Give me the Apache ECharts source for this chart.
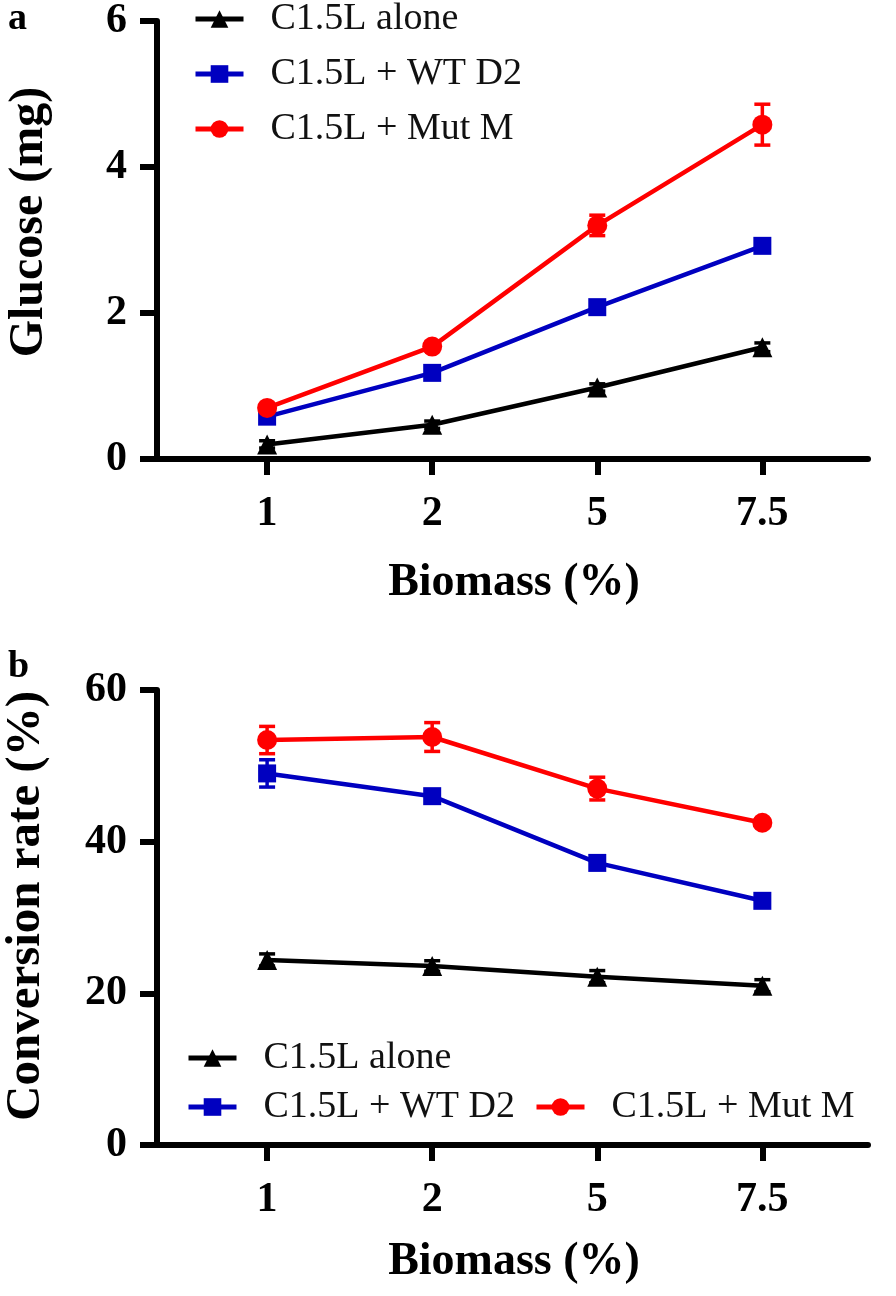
<!DOCTYPE html>
<html><head><meta charset="utf-8">
<script src="https://cdn.jsdelivr.net/npm/echarts@6/dist/echarts.min.js"></script>
<style>html,body{margin:0;padding:0;background:#fff}#c{width:896px;height:1296px}</style>
</head><body><div id="c"></div>
<script>
// ---- data ----
const categories = ['1', '2', '5', '7.5'];
const seriesNames = ['C1.5L alone', 'C1.5L + WT D2', 'C1.5L + Mut M'];
const seriesColors = ['#000000', '#0000c0', '#ff0000'];
const seriesSymbols = ['triangle', 'rect', 'circle'];

// panel a: glucose (mg)
const glucoseAlone    = [0.20, 0.47, 0.98, 1.53];
const glucoseAloneErr = [0.05, 0.05, 0.05, 0.06];
const glucoseWT       = [0.58, 1.18, 2.08, 2.92];
const glucoseWTErr    = [0.04, 0.06, 0.06, 0.06];
const glucoseMut      = [0.70, 1.54, 3.20, 4.58];
const glucoseMutErr   = [0.04, 0.06, 0.14, 0.28];

// panel b: conversion rate (%)
const convAlone    = [24.4, 23.6, 22.2, 21.0];
const convAloneErr = [0.8, 0.7, 0.8, 0.8];
const convWT       = [49.0, 46.0, 37.2, 32.2];
const convWTErr    = [1.8, 0.8, 0.8, 0.6];
const convMut      = [53.4, 53.8, 47.0, 42.5];
const convMutErr   = [1.8, 1.9, 1.5, 0.5];

const yMaxTop = 6, yStepTop = 2;
const yMaxBottom = 60, yStepBottom = 20;

// ---- chart ----
const FONT = '"Liberation Serif", "Times New Roman", serif';
const chart = echarts.init(document.getElementById('c'), null, {renderer: 'canvas'});

const catIdx = categories.map((c, i) => i);

function xAxis(gi) {
  return {
    type: 'value', gridIndex: gi, min: -0.667, max: 3.64,
    axisLine: {show: true, onZero: false, lineStyle: {color: '#000', width: 6}},
    axisTick: {show: true, customValues: catIdx, length: 16, lineStyle: {color: '#000', width: 6}},
    axisLabel: {show: true, customValues: catIdx, margin: 34,
      formatter: v => categories[Math.round(v)] || '',
      fontFamily: FONT, fontWeight: 'bold', fontSize: 42, color: '#000'},
    splitLine: {show: false}
  };
}
function yAxis(gi, max, step) {
  return {
    type: 'value', gridIndex: gi, min: 0, max: max, interval: step,
    axisLine: {show: true, onZero: false, lineStyle: {color: '#000', width: 6}},
    axisTick: {show: true, length: 17, lineStyle: {color: '#000', width: 6}},
    axisLabel: {margin: 30, fontFamily: FONT, fontWeight: 'bold', fontSize: 42, color: '#000'},
    splitLine: {show: false}
  };
}

function errRender(color) {
  return function (params, api) {
    const x = api.value(0), y = api.value(1), e = api.value(2);
    const p1 = api.coord([x, y + e]), p2 = api.coord([x, y - e]);
    const hw = 8;
    const st = {stroke: color, lineWidth: 3.5};
    return {type: 'group', children: [
      {type: 'line', shape: {x1: p1[0], y1: p1[1], x2: p2[0], y2: p2[1]}, style: st},
      {type: 'line', shape: {x1: p1[0] - hw, y1: p1[1], x2: p1[0] + hw, y2: p1[1]}, style: st},
      {type: 'line', shape: {x1: p2[0] - hw, y1: p2[1], x2: p2[0] + hw, y2: p2[1]}, style: st}
    ]};
  };
}

function makeSeries(gi, vals, errs, k) {
  const data = vals.map((v, i) => [i, v, errs[i]]);
  return [
    {
      type: 'custom', xAxisIndex: gi, yAxisIndex: gi, renderItem: errRender(seriesColors[k]),
      data: data, encode: {x: 0, y: 1}, z: 2, silent: true
    },
    {
      name: seriesNames[k], type: 'line', xAxisIndex: gi, yAxisIndex: gi,
      data: data.map(d => [d[0], d[1]]),
      symbol: seriesSymbols[k], symbolSize: k === 0 ? 20 : (k === 1 ? 18 : 20),
      showAllSymbol: true,
      lineStyle: {color: seriesColors[k], width: 4.5},
      itemStyle: {color: seriesColors[k]},
      z: 3, animation: false
    }
  ];
}

const series = [].concat(
  makeSeries(0, glucoseAlone, glucoseAloneErr, 0),
  makeSeries(0, glucoseWT, glucoseWTErr, 1),
  makeSeries(0, glucoseMut, glucoseMutErr, 2),
  makeSeries(1, convAlone, convAloneErr, 0),
  makeSeries(1, convWT, convWTErr, 1),
  makeSeries(1, convMut, convMutErr, 2)
);

const legendText = {fontFamily: FONT, fontSize: 38, lineHeight: 38, color: '#111', padding: [0, 0, 0, 22]};
const legendBase = {orient: 'vertical', itemWidth: 48, itemHeight: 22, padding: 0,
  lineStyle: {width: 5}, textStyle: legendText, selectedMode: false};

chart.setOption({
  animation: false,
  backgroundColor: '#fff',
  grid: [
    {left: 157, top: 15, width: 711, height: 444},
    {left: 157, top: 690, width: 711, height: 455}
  ],
  xAxis: [xAxis(0), xAxis(1)],
  yAxis: [yAxis(0, yMaxTop, yStepTop), yAxis(1, yMaxBottom, yStepBottom)],
  legend: [
    Object.assign({}, legendBase, {data: seriesNames, left: 193, top: 0, itemGap: 17}),
    Object.assign({}, legendBase, {data: [seriesNames[0], seriesNames[1]], left: 186, top: 1039, itemGap: 11}),
    Object.assign({}, legendBase, {data: [seriesNames[2]], left: 534, top: 1088})
  ],
  graphic: [
    {type: 'text', left: 8, top: 0, style: {text: 'a', font: 'bold 38px ' + FONT, fill: '#000'}},
    {type: 'text', left: 8, top: 648, style: {text: 'b', font: 'bold 38px ' + FONT, fill: '#000'}},
    {type: 'text', x: 30, y: 222, rotation: Math.PI / 2,
      style: {text: 'Glucose (mg)', font: 'bold 48px ' + FONT, fill: '#000', textAlign: 'center', textVerticalAlign: 'middle'}},
    {type: 'text', x: 26, y: 906, rotation: Math.PI / 2,
      style: {text: 'Conversion rate (%)', font: 'bold 49px ' + FONT, fill: '#000', textAlign: 'center', textVerticalAlign: 'middle'}},
    {type: 'text', x: 514, y: 583,
      style: {text: 'Biomass (%)', font: 'bold 46px ' + FONT, fill: '#000', textAlign: 'center', textVerticalAlign: 'middle'}},
    {type: 'text', x: 514, y: 1262,
      style: {text: 'Biomass (%)', font: 'bold 46px ' + FONT, fill: '#000', textAlign: 'center', textVerticalAlign: 'middle'}}
  ],
  series: series
});
</script>
</body></html>
